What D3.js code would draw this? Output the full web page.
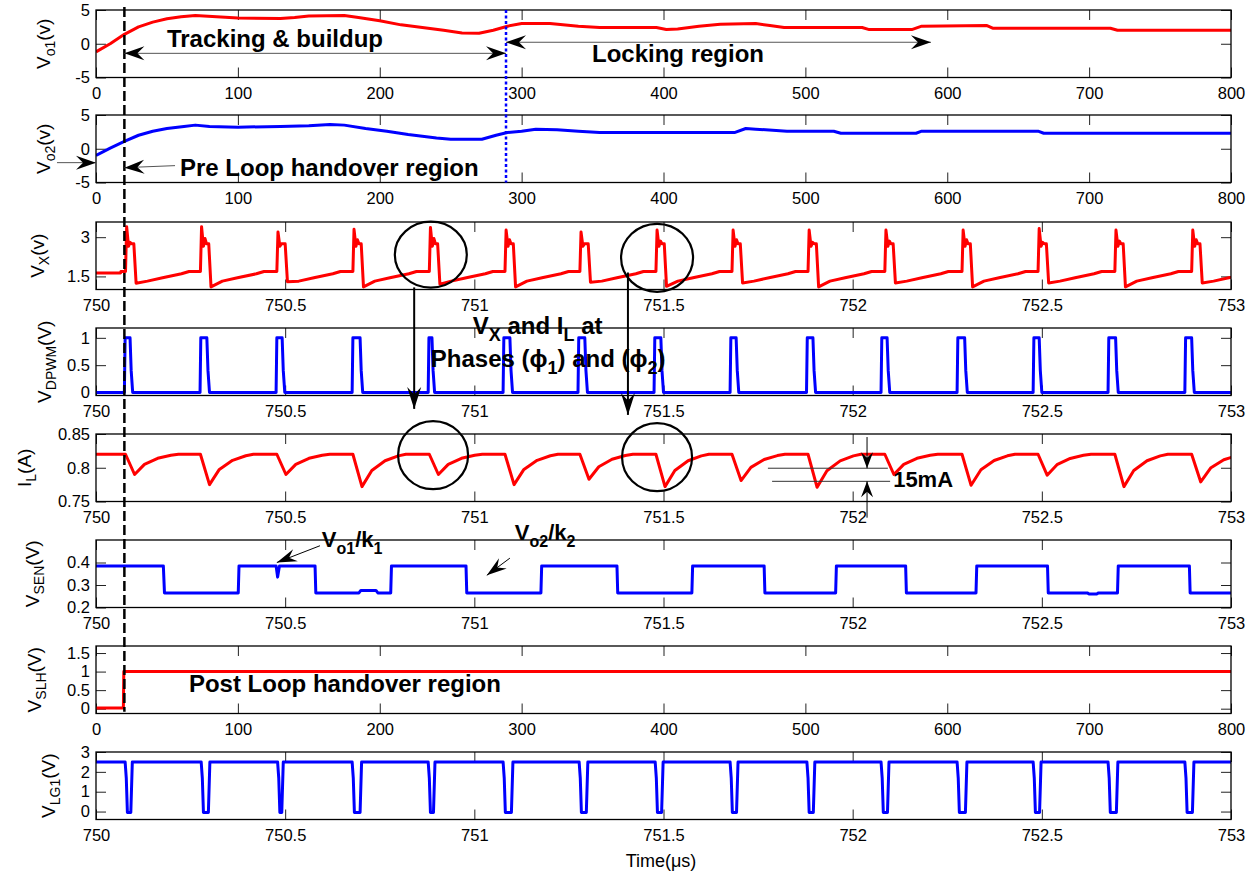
<html>
<head>
<script src="https://d3js.org/d3.v7.min.js"></script>
<style>
    body { margin: 0; background: #fff; }
    text { font-family: "Liberation Sans", Arial, Helvetica, sans-serif; }
</style>
</head>
<body>
<svg id="chart" width="1259" height="878"></svg>
<script>
//////////////////////////////////////////DATA//////////////////////////////////////////
// slow traces (time in us, 0..800)
const vo1 = [[0,-1.2],[10,0],[20,1.4],[30,2.5],[40,3.2],[50,3.7],[60,4.0],[70,4.2],[85,4.0],[100,3.8],[130,3.75],[140,3.9],
    [150,4.1],[175,4.2],[185,3.9],[200,3.4],[215,2.8],[230,2.4],[245,2.0],[258,1.6],[270,1.55],[280,2.0],[290,2.6],[300,3.0],
    [320,3.0],[340,2.6],[355,2.4],[395,2.4],[402,2.1],[410,2.2],[425,2.6],[440,2.9],[465,3.0],[475,2.7],[485,2.4],[540,2.4],
    [545,2.1],[575,2.1],[582,2.6],[628,2.7],[632,2.3],[715,2.3],[720,2.0],[800,2.0]];
const vo2 = [[0,-1.0],[10,0.1],[20,1.1],[30,2.0],[40,2.6],[50,3.0],[62,3.3],[70,3.5],[80,3.3],[100,3.2],[130,3.3],[150,3.4],
    [165,3.6],[175,3.5],[190,3.0],[205,2.6],[220,2.1],[240,1.6],[250,1.4],[272,1.4],[282,2.0],[290,2.4],[300,2.6],[310,2.9],
    [325,2.8],[340,2.6],[355,2.4],[450,2.4],[458,3.0],[465,2.9],[487,2.6],[520,2.6],[525,2.3],[578,2.3],[582,2.6],[664,2.6],
    [668,2.3],[800,2.3]];
const vslh = [[0,0.02],[19.3,0.02],[19.6,1],[800,1]];

// fast traces (time in us, 750..753), one entry per switching cycle
const vxSpike = [750.078,750.276,750.478,750.679,750.881,751.081,751.279,751.480,751.681,751.882,752.085,752.289,752.490,752.693,752.896];
const vxPeak  = [3.40,3.40,3.20,3.30,3.37,3.27,3.20,3.27,3.27,3.27,3.27,3.27,3.33,3.27,3.27];
const vxBump  = [2.80,2.95,2.75,2.90,2.95,2.90,2.75,2.85,2.90,2.80,2.85,2.90,2.80,2.85,2.90];
const vxLow   = [1.24,1.10,1.30,1.10,1.20,1.10,1.28,1.12,1.25,1.10,1.25,1.10,1.25,1.10,1.25];
const vxRampDt = [0.03,0.07,0.12,0.14];
const vxRampV  = [1.32,1.45,1.60,1.69];

const pwmRise = [750.075,750.275,750.476,750.677,750.878,751.076,751.274,751.475,751.676,751.878,752.075,752.276,752.477,752.675,752.878];
const pwmFall = [750.090,750.293,750.492,750.698,750.888,751.094,751.292,751.493,751.692,751.895,752.091,752.296,752.493,752.695,752.896];

const ilMin = [0.790,0.775,0.790,0.772,0.790,0.775,0.783,0.772,0.781,0.771,0.790,0.774,0.789,0.772,0.779];
const ilRecDt = [0.05,0.085,0.12,0.14];
const ilRecFrac = [0.5,0.8,0.95,1];

const vsen = [[750,0.385],[750.178,0.385],[750.181,0.265],[750.376,0.265],[750.378,0.385],[750.476,0.385],[750.480,0.335],
    [750.485,0.385],[750.579,0.385],[750.581,0.265],[750.695,0.265],[750.700,0.276],[750.740,0.276],[750.745,0.265],
    [750.779,0.265],[750.781,0.385],[750.978,0.385],[750.980,0.265],[751.176,0.265],[751.178,0.385],[751.377,0.385],
    [751.379,0.265],[751.575,0.265],[751.577,0.385],[751.766,0.385],[751.768,0.265],[751.955,0.265],[751.957,0.385],
    [752.140,0.385],[752.142,0.265],[752.326,0.265],[752.328,0.385],[752.515,0.385],[752.517,0.265],[752.620,0.265],
    [752.625,0.260],[752.645,0.260],[752.650,0.265],[752.700,0.265],[752.702,0.385],[752.890,0.385],[752.892,0.265],[753,0.265]];

const lgFall = [750.077,750.278,750.480,750.677,750.878,751.076,751.277,751.478,751.676,751.879,752.075,752.276,752.477,752.675,752.878];
const lgRise = [750.096,750.301,750.495,750.702,750.896,751.102,751.300,751.499,751.697,751.900,752.096,752.302,752.498,752.701,752.902];

// ticks
const slowTicks = [0,100,200,300,400,500,600,700,800];
const fastTicks = [750,750.5,751,751.5,752,752.5,753];

//////////////////////////////////////////BUILD POINT LISTS//////////////////////////////////////////
const vx = [[750,1.63],[750.065,1.63],[750.066,1.69]];
vxSpike.forEach((ts, i) => {
    const tm = ts + 0.028;
    vx.push([ts,1.69],[ts+0.003,vxPeak[i]],[ts+0.008,2.65],[ts+0.012,vxBump[i]],[ts+0.016,2.75],[ts+0.022,2.75],[tm,vxLow[i]]);
    vxRampDt.forEach((dt, j) => vx.push([tm+dt, Math.max(vxRampV[j], vxLow[i])]));
});

const vdpwm = [[750,0]];
pwmRise.forEach((r, i) => {
    vdpwm.push([r,0],[r+0.002,1],[pwmFall[i],1],[pwmFall[i]+0.003,0.4],[pwmFall[i]+0.007,0]);
});
vdpwm.push([753,0]);

const il = [[750,0.82]];
vxSpike.forEach((ts, i) => {
    const tm = ts + 0.024;
    il.push([ts,0.82],[tm,ilMin[i]]);
    ilRecDt.forEach((dt, j) => il.push([ts+dt, ilMin[i] + ilRecFrac[j]*(0.82-ilMin[i])]));
});

const vlg = [[750,2.5]];
lgFall.forEach((f, i) => {
    vlg.push([f,2.5],[f+0.003,1.7],[f+0.006,-0.05],[lgRise[i]-0.004,-0.05],[lgRise[i],2.5]);
});
vlg.push([753,2.5]);

//////////////////////////////////////////PANELS//////////////////////////////////////////
const red = "#ff0000", blue = "#0000ff";
const plotLeft = 96, plotRight = 1231, plotH = 67.5;
const svg = d3.select("#chart");

const panels = [
    {top: 10,  xd: [0,800],   yd: [-5,5],        yt: [-5,0,5],        data: vo1,   color: red,  lab: ["V","o1","(v)"],   lx: 50},
    {top: 115, xd: [0,800],   yd: [-5,5],        yt: [-5,0,5],        data: vo2,   color: blue, lab: ["V","o2","(v)"],   lx: 50},
    {top: 222, xd: [750,753], yd: [1.0,3.58],    yt: [1.5,3],         data: vx,    color: red,  lab: ["V","X","(v)"],    lx: 44},
    {top: 328, xd: [750,753], yd: [-0.055,1.18], yt: [0,0.5,1],       data: vdpwm, color: blue, lab: ["V","DPWM","(V)"], lx: 51},
    {top: 434, xd: [750,753], yd: [0.75,0.85],   yt: [0.75,0.8,0.85], data: il,    color: red,  lab: ["I","L","(A)"],    lx: 31},
    {top: 540, xd: [750,753], yd: [0.2,0.5],     yt: [0.2,0.3,0.4],   data: vsen,  color: blue, lab: ["V","SEN","(V)"],  lx: 39},
    {top: 646, xd: [0,800],   yd: [-0.13,1.69],  yt: [0,0.5,1,1.5],   data: vslh,  color: red,  lab: ["V","SLH","(V)"],  lx: 41},
    {top: 752, xd: [750,753], yd: [-0.4,3],      yt: [0,1,2,3],       data: vlg,   color: blue, lab: ["V","LG1","(V)"],  lx: 55}
];

const sc = [];
panels.forEach((p, i) => {
    const x = d3.scaleLinear().domain(p.xd).range([plotLeft, plotRight]);
    const y = d3.scaleLinear().domain(p.yd).range([p.top + plotH, p.top]);
    sc.push({x, y});
    const xt = p.xd[0] === 0 ? slowTicks : fastTicks;
    const g = svg.append("g");

    svg.append("clipPath").attr("id", "clip" + i).append("rect")
        .attr("x", plotLeft).attr("y", p.top).attr("width", plotRight - plotLeft).attr("height", plotH);

    const axes = [
        g.append("g").attr("transform", `translate(0,${p.top + plotH})`)
            .call(d3.axisBottom(x).tickValues(xt).tickSize(-10).tickPadding(10).tickFormat(d => String(d))),
        g.append("g").attr("transform", `translate(0,${p.top})`)
            .call(d3.axisTop(x).tickValues(xt).tickSize(-10).tickFormat("")),
        g.append("g").attr("transform", `translate(${plotLeft},0)`)
            .call(d3.axisLeft(y).tickValues(p.yt).tickSize(-10).tickPadding(6).tickFormat(d => String(d))),
        g.append("g").attr("transform", `translate(${plotRight},0)`)
            .call(d3.axisRight(y).tickValues(p.yt).tickSize(-10).tickFormat(""))
    ];
    axes.forEach(a => {
        a.attr("font-size", 16.5).attr("font-family", "'Liberation Sans', Arial, sans-serif");
        a.select(".domain").remove();
        a.selectAll("line").attr("stroke", "#222");
    });

    // trace
    g.append("path").datum(p.data)
        .attr("clip-path", `url(#clip${i})`)
        .attr("d", d3.line().x(d => x(d[0])).y(d => y(d[1])))
        .attr("fill", "none").attr("stroke", p.color).attr("stroke-width", 3)
        .attr("stroke-linejoin", "round");

    // box
    g.append("rect").attr("x", plotLeft).attr("y", p.top)
        .attr("width", plotRight - plotLeft).attr("height", plotH)
        .attr("fill", "none").attr("stroke", "#000").attr("stroke-width", 1.3);

    // y label with subscript
    const lab = svg.append("text")
        .attr("transform", `translate(${p.lx},${p.top + plotH / 2}) rotate(-90)`)
        .attr("text-anchor", "middle").attr("font-size", 19);
    lab.append("tspan").text(p.lab[0]);
    lab.append("tspan").text(p.lab[1]).attr("font-size", 14).attr("dy", 5);
    lab.append("tspan").text(p.lab[2]).attr("dy", -5);
});

svg.append("text").attr("x", 661).attr("y", 867).attr("text-anchor", "middle")
    .attr("font-size", 18).text("Time(\u03bcs)");

//////////////////////////////////////////ANNOTATIONS//////////////////////////////////////////
const ann = svg.append("g");

function head(x2, y2, ang, len, wid) {
    const pts = [[0,0],[-len,-wid/2],[-len*0.65,0],[-len,wid/2]];
    ann.append("path").attr("d", "M" + pts.map(q => q.join(",")).join("L") + "Z")
        .attr("transform", `translate(${x2},${y2}) rotate(${ang})`).attr("fill", "#000");
}
function arrow(x1, y1, x2, y2, opt) {
    const o = Object.assign({color: "#000", w: 1, len: 20, wid: 14, both: false}, opt || {});
    ann.append("line").attr("x1", x1).attr("y1", y1).attr("x2", x2).attr("y2", y2)
        .attr("stroke", o.color).attr("stroke-width", o.w);
    const ang = Math.atan2(y2 - y1, x2 - x1) * 180 / Math.PI;
    head(x2, y2, ang, o.len, o.wid);
    if (o.both) head(x1, y1, ang + 180, o.len, o.wid);
}
function label(x, y, parts, size, subSize) {
    const t = ann.append("text").attr("x", x).attr("y", y).attr("font-size", size).attr("font-weight", "bold");
    let shift = 0;
    parts.forEach(pt => {
        const sub = Array.isArray(pt);
        const dy = (sub ? 7 : 0) - shift;
        shift = sub ? 7 : 0;
        t.append("tspan").text(sub ? pt[0] : pt).attr("font-size", sub ? subSize : size).attr("dy", dy);
    });
    return t;
}

const s0 = sc[0], s1 = sc[1], s2 = sc[2], s3 = sc[3], s4 = sc[4], s5 = sc[5], s6 = sc[6];

// handover markers
ann.append("line").attr("x1", s0.x(20)).attr("x2", s0.x(20)).attr("y1", 7).attr("y2", s6.y(-0.08))
    .attr("stroke", "#000").attr("stroke-width", 2.5).attr("stroke-dasharray", "10,4");
ann.append("line").attr("x1", s0.x(289)).attr("x2", s0.x(289)).attr("y1", s0.y(5)).attr("y2", s1.y(-5))
    .attr("stroke", blue).attr("stroke-width", 2.5).attr("stroke-dasharray", "3,2.5");

// panel 1
arrow(s0.x(20), s0.y(-1.42), s0.x(289), s0.y(-1.42), {color: "#555", both: true});
label(s0.x(50), s0.y(-0.5), ["Tracking & buildup"], 24, 17);
arrow(s0.x(289), s0.y(0.22), s0.x(588.5), s0.y(0.22), {color: "#555", both: true});
label(s0.x(349.6), s0.y(-2.76), ["Locking region"], 24, 17);

// panel 2
arrow(s1.x(-27.5), s1.y(-2.06), s1.x(0), s1.y(-2.06), {color: "#555"});
arrow(s1.x(55.7), s1.y(-2.5), s1.x(20), s1.y(-2.8), {color: "#555"});
label(s1.x(59.2), s1.y(-3.97), ["Pre Loop handover region"], 24, 17);

// phase circles on Vx and IL
[[s2, 750.885, 2.33, 36, 33], [s2, 751.483, 2.21, 36, 34], [s4, 750.891, 0.8187, 35, 34], [s4, 751.483, 0.8157, 35, 34]]
    .forEach(c => {
        ann.append("ellipse").attr("cx", c[0].x(c[1])).attr("cy", c[0].y(c[2])).attr("rx", c[3]).attr("ry", c[4])
            .attr("fill", "none").attr("stroke", "#000").attr("stroke-width", 2.2);
    });
arrow(s2.x(750.841), s2.y(1.08), s2.x(750.841), s3.y(-0.3), {w: 2, len: 22, wid: 14});
arrow(s2.x(751.406), s2.y(1.65), s2.x(751.406), s3.y(-0.41), {w: 2, len: 22, wid: 14});
label(s3.x(750.996), s3.y(1.07), ["V", ["X"], " and I", ["L"], " at"], 24, 18);
label(s3.x(750.885), s3.y(0.472), ["Phases (\u03d5", ["1"], ") and (\u03d5", ["2"], ")"], 24, 18);

// 15mA ripple marker
[[751.776, 752.093, 0.7993], [751.787, 752.099, 0.7799]].forEach(h => {
    ann.append("line").attr("x1", s4.x(h[0])).attr("x2", s4.x(h[1])).attr("y1", s4.y(h[2])).attr("y2", s4.y(h[2]))
        .attr("stroke", "#333").attr("stroke-width", 1);
});
arrow(s4.x(752.038), s4.y(0.8455), s4.x(752.038), s4.y(0.7993), {len: 16, wid: 12});
arrow(s4.x(752.038), s4.y(0.726), s4.x(752.038), s4.y(0.7799), {len: 16, wid: 12});
label(s4.x(752.107), s4.y(0.771), ["15mA"], 22, 16);

// VSEN notes
arrow(s5.x(750.592), s5.y(0.4745), s5.x(750.478), s5.y(0.4), {len: 20, wid: 13});
label(s5.x(750.597), s5.y(0.47), ["V", ["o1"], "/k", ["1"]], 22, 16);
arrow(s5.x(751.094), s5.y(0.4194), s5.x(751.033), s5.y(0.343), {len: 20, wid: 13});
label(s5.x(751.107), s5.y(0.5), ["V", ["o2"], "/k", ["2"]], 22, 16);

// VSLH note
label(s6.x(65.5), s6.y(0.455), ["Post Loop handover region"], 24, 17);
</script>
</body>
</html>
